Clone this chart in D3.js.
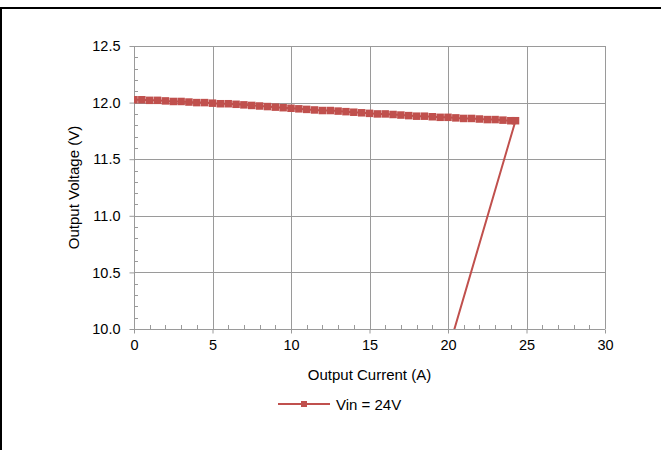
<!DOCTYPE html>
<html><head><meta charset="utf-8">
<script src="https://cdn.jsdelivr.net/npm/d3@7"></script>
<style>body{margin:0;background:#fff}svg{display:block}text{font-family:"Liberation Sans",Arial,sans-serif;fill:#000}</style>
</head><body>
<svg id="c" width="661" height="450"></svg>
<script>
const current = [0,0.5,1,1.5,2,2.5,3,3.5,4,4.5,5,5.5,6,6.5,7,7.5,8,8.5,9,9.5,10,10.5,11,11.5,12,12.5,13,13.5,14,14.5,15,15.5,16,16.5,17,17.5,18,18.5,19,19.5,20,20.5,21,21.5,22,22.5,23,23.5,24,24.3,19.5];
const voltage = [12.025,12.025,12.02,12.02,12.015,12.01,12.01,12.005,12.0,12.0,11.995,11.99,11.99,11.985,11.98,11.975,11.97,11.965,11.96,11.955,11.95,11.945,11.94,11.935,11.93,11.93,11.925,11.92,11.915,11.91,11.905,11.9,11.9,11.895,11.89,11.885,11.88,11.88,11.875,11.87,11.87,11.865,11.86,11.86,11.855,11.85,11.85,11.845,11.84,11.84,9.57];
const xTicks = [0,5,10,15,20,25,30];
const yTicks = [10.0,10.5,11.0,11.5,12.0,12.5];
const seriesName = "Vin = 24V";
const color = "#c0504d";

const svg = d3.select("#c");
// frame
svg.append("line").attr("x1",0).attr("x2",661).attr("y1",8).attr("y2",8).attr("stroke","#000").attr("stroke-width",2);
svg.append("line").attr("x1",1).attr("x2",1).attr("y1",7).attr("y2",450).attr("stroke","#000").attr("stroke-width",2);

const L=134,R=605,T=46,B=329;
const x = d3.scaleLinear().domain([0,30]).range([L,R]);
const y = d3.scaleLinear().domain([10,12.5]).range([B,T]);
const grid="#9a9a9a";
const g = svg.append("g");
g.selectAll(".vg").data(xTicks.slice(1)).join("line").attr("x1",d=>Math.round(x(d))+0.5).attr("x2",d=>Math.round(x(d))+0.5).attr("y1",T).attr("y2",B).attr("stroke",grid);
g.selectAll(".hg").data(yTicks.slice(1)).join("line").attr("x1",L).attr("x2",R).attr("y1",d=>Math.round(y(d))+0.5).attr("y2",d=>Math.round(y(d))+0.5).attr("stroke",grid);
const xMinor = d3.range(0,31,1).filter(d=>d%5!==0);
g.selectAll(".xm").data(xMinor).join("line").attr("x1",d=>Math.round(x(d))+0.5).attr("x2",d=>Math.round(x(d))+0.5).attr("y1",B).attr("y2",B-4).attr("stroke",grid);
const yMinor = d3.range(100,126,1).filter(d=>d%5!==0).map(d=>d/10);
g.selectAll(".ym").data(yMinor).join("line").attr("x1",L).attr("x2",L+4).attr("y1",d=>Math.round(y(d))+0.5).attr("y2",d=>Math.round(y(d))+0.5).attr("stroke",grid);
const xa = svg.append("g").attr("transform",`translate(0,${B+0.5})`).call(d3.axisBottom(x).tickValues(xTicks).tickFormat(d3.format("d")).tickSize(4).tickPadding(6));
const ya = svg.append("g").attr("transform",`translate(${L+0.5},0)`).call(d3.axisLeft(y).tickValues(yTicks).tickFormat(d3.format(".1f")).tickSize(5).tickPadding(9));
[xa,ya].forEach(a=>{a.selectAll("path,line").attr("stroke",grid);a.selectAll("text").style("font-size","14.5px").attr("fill","#000").style("font-family","Liberation Sans, Arial, sans-serif");});
xa.select(".domain").attr("d",`M${L},0H${R}`);
ya.select(".domain").attr("d",`M0,${T}V${B}`);

svg.append("clipPath").attr("id","clp").append("rect").attr("x",L).attr("y",T-10).attr("width",R-L+10).attr("height",B-T+10);
const pts = current.map((c,i)=>[c,voltage[i]]);
const pg = svg.append("g").attr("clip-path","url(#clp)");
pg.append("path").datum(pts).attr("d",d3.line().x(d=>x(d[0])).y(d=>y(d[1]))).attr("fill","none").attr("stroke",color).attr("stroke-width",2);
pg.selectAll(".m").data(pts.slice(0,-1)).join("rect").attr("x",d=>x(d[0])-3.75).attr("y",d=>y(d[1])-3.75).attr("width",7.5).attr("height",7.5).attr("fill",color);

svg.append("text").attr("x",(L+R)/2).attr("y",380).attr("text-anchor","middle").style("font-size","15px").text("Output Current (A)");
svg.append("text").attr("transform",`translate(79,${(T+B)/2}) rotate(-90)`).attr("text-anchor","middle").style("font-size","15px").text("Output Voltage (V)");
svg.append("line").attr("x1",278).attr("x2",330).attr("y1",404).attr("y2",404).attr("stroke",color).attr("stroke-width",2);
svg.append("rect").attr("x",301).attr("y",401).attr("width",6).attr("height",6).attr("fill",color);
svg.append("text").attr("x",336).attr("y",409.5).style("font-size","15px").text(seriesName);
</script>
</body></html>
